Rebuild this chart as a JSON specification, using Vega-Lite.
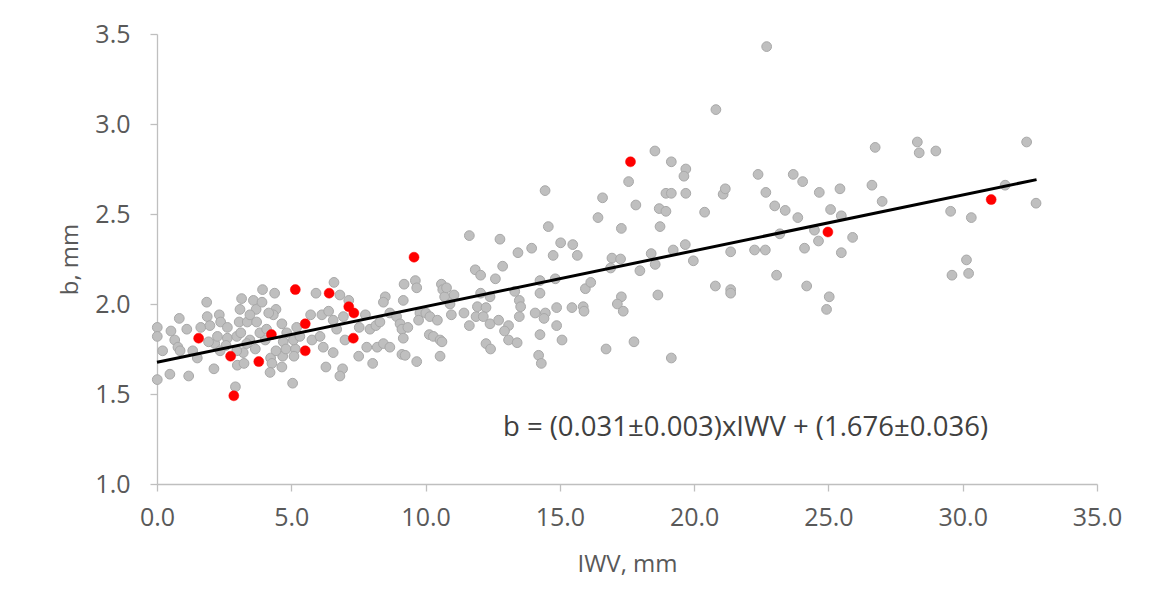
{
  "$schema": "https://vega.github.io/schema/vega-lite/v6.json",
  "autosize": {"type": "none"},
  "width": 940,
  "height": 450,
  "padding": {"left": 157, "top": 34, "right": 69, "bottom": 122},
  "background": "white",
  "config": {
    "view": {"stroke": null},
    "axis": {
      "grid": false,
      "domainColor": "#BFBFBF",
      "domainWidth": 1.3,
      "tickColor": "#BFBFBF",
      "tickWidth": 1.3,
      "tickSize": 7,
      "labelColor": "#595959",
      "titleColor": "#595959",
      "labelFont": "Open Sans",
      "titleFont": "Open Sans",
      "labelFontSize": 25,
      "titleFontSize": 24,
      "titleFontWeight": "normal",
      "labelFlush": false,
      "labelOverlap": false
    }
  },
  "datasets": {
    "pts": [
      {"IWV": 0.01, "b": 1.87, "group": "all"},
      {"IWV": 0.01, "b": 1.82, "group": "all"},
      {"IWV": 0.21, "b": 1.74, "group": "all"},
      {"IWV": 0.01, "b": 1.58, "group": "all"},
      {"IWV": 0.48, "b": 1.61, "group": "all"},
      {"IWV": 0.52, "b": 1.85, "group": "all"},
      {"IWV": 0.66, "b": 1.80, "group": "all"},
      {"IWV": 0.83, "b": 1.92, "group": "all"},
      {"IWV": 0.78, "b": 1.76, "group": "all"},
      {"IWV": 0.86, "b": 1.74, "group": "all"},
      {"IWV": 1.18, "b": 1.60, "group": "all"},
      {"IWV": 1.11, "b": 1.86, "group": "all"},
      {"IWV": 1.33, "b": 1.74, "group": "all"},
      {"IWV": 1.50, "b": 1.70, "group": "all"},
      {"IWV": 1.63, "b": 1.87, "group": "all"},
      {"IWV": 1.85, "b": 2.01, "group": "all"},
      {"IWV": 1.87, "b": 1.93, "group": "all"},
      {"IWV": 1.97, "b": 1.88, "group": "all"},
      {"IWV": 2.32, "b": 1.94, "group": "all"},
      {"IWV": 2.37, "b": 1.90, "group": "all"},
      {"IWV": 2.12, "b": 1.64, "group": "all"},
      {"IWV": 2.15, "b": 1.78, "group": "all"},
      {"IWV": 2.25, "b": 1.82, "group": "all"},
      {"IWV": 2.62, "b": 1.87, "group": "all"},
      {"IWV": 2.62, "b": 1.81, "group": "all"},
      {"IWV": 2.57, "b": 1.77, "group": "all"},
      {"IWV": 2.97, "b": 1.82, "group": "all"},
      {"IWV": 2.92, "b": 1.54, "group": "all"},
      {"IWV": 2.99, "b": 1.66, "group": "all"},
      {"IWV": 3.15, "b": 2.03, "group": "all"},
      {"IWV": 3.09, "b": 1.97, "group": "all"},
      {"IWV": 3.06, "b": 1.90, "group": "all"},
      {"IWV": 3.12, "b": 1.84, "group": "all"},
      {"IWV": 3.21, "b": 1.73, "group": "all"},
      {"IWV": 3.24, "b": 1.67, "group": "all"},
      {"IWV": 3.36, "b": 1.90, "group": "all"},
      {"IWV": 3.59, "b": 2.02, "group": "all"},
      {"IWV": 3.69, "b": 1.97, "group": "all"},
      {"IWV": 3.71, "b": 1.90, "group": "all"},
      {"IWV": 3.66, "b": 1.75, "group": "all"},
      {"IWV": 3.46, "b": 1.80, "group": "all"},
      {"IWV": 3.93, "b": 2.08, "group": "all"},
      {"IWV": 3.91, "b": 2.01, "group": "all"},
      {"IWV": 4.03, "b": 1.80, "group": "all"},
      {"IWV": 4.23, "b": 1.70, "group": "all"},
      {"IWV": 4.28, "b": 1.67, "group": "all"},
      {"IWV": 4.21, "b": 1.62, "group": "all"},
      {"IWV": 4.38, "b": 2.06, "group": "all"},
      {"IWV": 4.43, "b": 1.97, "group": "all"},
      {"IWV": 4.33, "b": 1.94, "group": "all"},
      {"IWV": 4.65, "b": 1.89, "group": "all"},
      {"IWV": 4.70, "b": 1.79, "group": "all"},
      {"IWV": 4.68, "b": 1.71, "group": "all"},
      {"IWV": 4.65, "b": 1.65, "group": "all"},
      {"IWV": 5.05, "b": 1.56, "group": "all"},
      {"IWV": 5.15, "b": 1.75, "group": "all"},
      {"IWV": 5.10, "b": 1.71, "group": "all"},
      {"IWV": 5.20, "b": 1.87, "group": "all"},
      {"IWV": 1.92, "b": 1.79, "group": "all"},
      {"IWV": 2.35, "b": 1.74, "group": "all"},
      {"IWV": 2.97, "b": 1.74, "group": "all"},
      {"IWV": 3.34, "b": 1.78, "group": "all"},
      {"IWV": 3.83, "b": 1.84, "group": "all"},
      {"IWV": 4.08, "b": 1.86, "group": "all"},
      {"IWV": 4.83, "b": 1.84, "group": "all"},
      {"IWV": 4.80, "b": 1.75, "group": "all"},
      {"IWV": 4.43, "b": 1.74, "group": "all"},
      {"IWV": 5.08, "b": 1.80, "group": "all"},
      {"IWV": 4.16, "b": 1.95, "group": "all"},
      {"IWV": 3.46, "b": 1.94, "group": "all"},
      {"IWV": 6.59, "b": 2.12, "group": "all"},
      {"IWV": 5.92, "b": 2.06, "group": "all"},
      {"IWV": 6.81, "b": 2.05, "group": "all"},
      {"IWV": 7.14, "b": 2.02, "group": "all"},
      {"IWV": 5.72, "b": 1.94, "group": "all"},
      {"IWV": 6.14, "b": 1.94, "group": "all"},
      {"IWV": 6.39, "b": 1.96, "group": "all"},
      {"IWV": 6.56, "b": 1.91, "group": "all"},
      {"IWV": 6.94, "b": 1.93, "group": "all"},
      {"IWV": 5.32, "b": 1.82, "group": "all"},
      {"IWV": 5.77, "b": 1.80, "group": "all"},
      {"IWV": 6.07, "b": 1.82, "group": "all"},
      {"IWV": 6.19, "b": 1.76, "group": "all"},
      {"IWV": 6.56, "b": 1.73, "group": "all"},
      {"IWV": 6.29, "b": 1.65, "group": "all"},
      {"IWV": 6.91, "b": 1.64, "group": "all"},
      {"IWV": 6.81, "b": 1.60, "group": "all"},
      {"IWV": 6.69, "b": 1.86, "group": "all"},
      {"IWV": 7.00, "b": 1.80, "group": "all"},
      {"IWV": 7.76, "b": 1.94, "group": "all"},
      {"IWV": 7.53, "b": 1.87, "group": "all"},
      {"IWV": 7.93, "b": 1.86, "group": "all"},
      {"IWV": 8.15, "b": 1.88, "group": "all"},
      {"IWV": 7.51, "b": 1.71, "group": "all"},
      {"IWV": 7.81, "b": 1.76, "group": "all"},
      {"IWV": 8.03, "b": 1.67, "group": "all"},
      {"IWV": 8.20, "b": 1.76, "group": "all"},
      {"IWV": 8.43, "b": 1.78, "group": "all"},
      {"IWV": 8.67, "b": 1.76, "group": "all"},
      {"IWV": 8.30, "b": 1.90, "group": "all"},
      {"IWV": 8.50, "b": 2.04, "group": "all"},
      {"IWV": 8.43, "b": 2.01, "group": "all"},
      {"IWV": 8.67, "b": 1.95, "group": "all"},
      {"IWV": 8.92, "b": 1.93, "group": "all"},
      {"IWV": 9.05, "b": 1.89, "group": "all"},
      {"IWV": 9.17, "b": 2.02, "group": "all"},
      {"IWV": 9.20, "b": 2.11, "group": "all"},
      {"IWV": 9.12, "b": 1.86, "group": "all"},
      {"IWV": 9.34, "b": 1.87, "group": "all"},
      {"IWV": 9.17, "b": 1.81, "group": "all"},
      {"IWV": 9.12, "b": 1.72, "group": "all"},
      {"IWV": 9.24, "b": 1.715, "group": "all"},
      {"IWV": 9.67, "b": 1.68, "group": "all"},
      {"IWV": 9.62, "b": 2.13, "group": "all"},
      {"IWV": 9.67, "b": 2.09, "group": "all"},
      {"IWV": 9.79, "b": 1.95, "group": "all"},
      {"IWV": 9.74, "b": 1.91, "group": "all"},
      {"IWV": 10.01, "b": 1.95, "group": "all"},
      {"IWV": 10.16, "b": 1.93, "group": "all"},
      {"IWV": 10.14, "b": 1.83, "group": "all"},
      {"IWV": 10.29, "b": 1.82, "group": "all"},
      {"IWV": 10.54, "b": 1.80, "group": "all"},
      {"IWV": 10.59, "b": 2.11, "group": "all"},
      {"IWV": 10.64, "b": 2.08, "group": "all"},
      {"IWV": 10.71, "b": 2.04, "group": "all"},
      {"IWV": 10.44, "b": 1.91, "group": "all"},
      {"IWV": 10.54, "b": 1.71, "group": "all"},
      {"IWV": 11.63, "b": 2.38, "group": "all"},
      {"IWV": 12.77, "b": 2.36, "group": "all"},
      {"IWV": 14.57, "b": 2.43, "group": "all"},
      {"IWV": 13.44, "b": 2.285, "group": "all"},
      {"IWV": 13.95, "b": 2.31, "group": "all"},
      {"IWV": 15.03, "b": 2.34, "group": "all"},
      {"IWV": 15.48, "b": 2.33, "group": "all"},
      {"IWV": 14.75, "b": 2.27, "group": "all"},
      {"IWV": 15.65, "b": 2.27, "group": "all"},
      {"IWV": 16.42, "b": 2.48, "group": "all"},
      {"IWV": 11.85, "b": 2.19, "group": "all"},
      {"IWV": 12.05, "b": 2.16, "group": "all"},
      {"IWV": 12.87, "b": 2.21, "group": "all"},
      {"IWV": 12.60, "b": 2.14, "group": "all"},
      {"IWV": 10.78, "b": 2.09, "group": "all"},
      {"IWV": 11.06, "b": 2.05, "group": "all"},
      {"IWV": 12.05, "b": 2.06, "group": "all"},
      {"IWV": 12.40, "b": 2.04, "group": "all"},
      {"IWV": 10.91, "b": 2.00, "group": "all"},
      {"IWV": 10.96, "b": 1.94, "group": "all"},
      {"IWV": 11.43, "b": 1.95, "group": "all"},
      {"IWV": 11.93, "b": 1.985, "group": "all"},
      {"IWV": 12.25, "b": 1.98, "group": "all"},
      {"IWV": 11.88, "b": 1.93, "group": "all"},
      {"IWV": 12.15, "b": 1.93, "group": "all"},
      {"IWV": 12.40, "b": 1.89, "group": "all"},
      {"IWV": 12.72, "b": 1.91, "group": "all"},
      {"IWV": 11.63, "b": 1.88, "group": "all"},
      {"IWV": 13.09, "b": 1.88, "group": "all"},
      {"IWV": 12.94, "b": 1.85, "group": "all"},
      {"IWV": 13.32, "b": 2.07, "group": "all"},
      {"IWV": 13.49, "b": 2.02, "group": "all"},
      {"IWV": 13.54, "b": 1.985, "group": "all"},
      {"IWV": 13.49, "b": 1.93, "group": "all"},
      {"IWV": 14.26, "b": 2.13, "group": "all"},
      {"IWV": 14.26, "b": 2.06, "group": "all"},
      {"IWV": 14.83, "b": 2.14, "group": "all"},
      {"IWV": 14.08, "b": 1.95, "group": "all"},
      {"IWV": 14.46, "b": 1.95, "group": "all"},
      {"IWV": 14.41, "b": 1.92, "group": "all"},
      {"IWV": 14.88, "b": 1.98, "group": "all"},
      {"IWV": 14.88, "b": 1.88, "group": "all"},
      {"IWV": 15.45, "b": 1.98, "group": "all"},
      {"IWV": 15.87, "b": 1.985, "group": "all"},
      {"IWV": 15.90, "b": 1.96, "group": "all"},
      {"IWV": 15.95, "b": 2.085, "group": "all"},
      {"IWV": 16.15, "b": 2.12, "group": "all"},
      {"IWV": 14.26, "b": 1.83, "group": "all"},
      {"IWV": 15.08, "b": 1.80, "group": "all"},
      {"IWV": 12.25, "b": 1.78, "group": "all"},
      {"IWV": 12.42, "b": 1.75, "group": "all"},
      {"IWV": 13.09, "b": 1.80, "group": "all"},
      {"IWV": 13.41, "b": 1.785, "group": "all"},
      {"IWV": 10.61, "b": 1.79, "group": "all"},
      {"IWV": 14.21, "b": 1.715, "group": "all"},
      {"IWV": 14.31, "b": 1.67, "group": "all"},
      {"IWV": 14.45, "b": 2.63, "group": "all"},
      {"IWV": 18.54, "b": 2.85, "group": "all"},
      {"IWV": 19.15, "b": 2.79, "group": "all"},
      {"IWV": 19.69, "b": 2.75, "group": "all"},
      {"IWV": 19.62, "b": 2.71, "group": "all"},
      {"IWV": 17.56, "b": 2.68, "group": "all"},
      {"IWV": 16.59, "b": 2.59, "group": "all"},
      {"IWV": 17.83, "b": 2.55, "group": "all"},
      {"IWV": 18.95, "b": 2.615, "group": "all"},
      {"IWV": 19.15, "b": 2.615, "group": "all"},
      {"IWV": 19.69, "b": 2.615, "group": "all"},
      {"IWV": 18.70, "b": 2.53, "group": "all"},
      {"IWV": 18.95, "b": 2.515, "group": "all"},
      {"IWV": 17.29, "b": 2.42, "group": "all"},
      {"IWV": 18.73, "b": 2.43, "group": "all"},
      {"IWV": 20.39, "b": 2.51, "group": "all"},
      {"IWV": 21.08, "b": 2.61, "group": "all"},
      {"IWV": 21.16, "b": 2.64, "group": "all"},
      {"IWV": 22.38, "b": 2.72, "group": "all"},
      {"IWV": 22.67, "b": 2.62, "group": "all"},
      {"IWV": 16.94, "b": 2.255, "group": "all"},
      {"IWV": 17.26, "b": 2.25, "group": "all"},
      {"IWV": 16.89, "b": 2.20, "group": "all"},
      {"IWV": 17.98, "b": 2.185, "group": "all"},
      {"IWV": 18.40, "b": 2.28, "group": "all"},
      {"IWV": 18.55, "b": 2.22, "group": "all"},
      {"IWV": 19.22, "b": 2.30, "group": "all"},
      {"IWV": 19.67, "b": 2.33, "group": "all"},
      {"IWV": 19.97, "b": 2.24, "group": "all"},
      {"IWV": 21.36, "b": 2.29, "group": "all"},
      {"IWV": 22.25, "b": 2.30, "group": "all"},
      {"IWV": 22.65, "b": 2.30, "group": "all"},
      {"IWV": 17.29, "b": 2.04, "group": "all"},
      {"IWV": 17.14, "b": 2.00, "group": "all"},
      {"IWV": 17.36, "b": 1.96, "group": "all"},
      {"IWV": 18.65, "b": 2.05, "group": "all"},
      {"IWV": 20.79, "b": 2.10, "group": "all"},
      {"IWV": 21.36, "b": 2.08, "group": "all"},
      {"IWV": 21.36, "b": 2.06, "group": "all"},
      {"IWV": 16.72, "b": 1.75, "group": "all"},
      {"IWV": 17.76, "b": 1.79, "group": "all"},
      {"IWV": 19.15, "b": 1.70, "group": "all"},
      {"IWV": 22.70, "b": 3.43, "group": "all"},
      {"IWV": 20.81, "b": 3.08, "group": "all"},
      {"IWV": 26.74, "b": 2.87, "group": "all"},
      {"IWV": 28.31, "b": 2.90, "group": "all"},
      {"IWV": 28.38, "b": 2.84, "group": "all"},
      {"IWV": 29.00, "b": 2.85, "group": "all"},
      {"IWV": 23.69, "b": 2.72, "group": "all"},
      {"IWV": 24.04, "b": 2.68, "group": "all"},
      {"IWV": 24.66, "b": 2.62, "group": "all"},
      {"IWV": 25.43, "b": 2.64, "group": "all"},
      {"IWV": 26.62, "b": 2.66, "group": "all"},
      {"IWV": 23.00, "b": 2.545, "group": "all"},
      {"IWV": 23.39, "b": 2.52, "group": "all"},
      {"IWV": 23.86, "b": 2.48, "group": "all"},
      {"IWV": 25.08, "b": 2.525, "group": "all"},
      {"IWV": 25.48, "b": 2.49, "group": "all"},
      {"IWV": 27.00, "b": 2.57, "group": "all"},
      {"IWV": 23.19, "b": 2.39, "group": "all"},
      {"IWV": 24.48, "b": 2.41, "group": "all"},
      {"IWV": 24.63, "b": 2.35, "group": "all"},
      {"IWV": 24.11, "b": 2.31, "group": "all"},
      {"IWV": 25.48, "b": 2.285, "group": "all"},
      {"IWV": 25.90, "b": 2.37, "group": "all"},
      {"IWV": 23.07, "b": 2.16, "group": "all"},
      {"IWV": 24.19, "b": 2.10, "group": "all"},
      {"IWV": 25.03, "b": 2.04, "group": "all"},
      {"IWV": 24.93, "b": 1.97, "group": "all"},
      {"IWV": 32.38, "b": 2.90, "group": "all"},
      {"IWV": 31.58, "b": 2.66, "group": "all"},
      {"IWV": 32.73, "b": 2.56, "group": "all"},
      {"IWV": 29.55, "b": 2.515, "group": "all"},
      {"IWV": 30.32, "b": 2.48, "group": "all"},
      {"IWV": 30.14, "b": 2.245, "group": "all"},
      {"IWV": 30.22, "b": 2.17, "group": "all"},
      {"IWV": 29.60, "b": 2.16, "group": "all"},
      {"IWV": 1.55, "b": 1.81, "group": "subset"},
      {"IWV": 2.74, "b": 1.71, "group": "subset"},
      {"IWV": 2.86, "b": 1.49, "group": "subset"},
      {"IWV": 3.79, "b": 1.68, "group": "subset"},
      {"IWV": 4.26, "b": 1.83, "group": "subset"},
      {"IWV": 5.15, "b": 2.08, "group": "subset"},
      {"IWV": 5.52, "b": 1.89, "group": "subset"},
      {"IWV": 5.52, "b": 1.74, "group": "subset"},
      {"IWV": 6.41, "b": 2.06, "group": "subset"},
      {"IWV": 7.14, "b": 1.985, "group": "subset"},
      {"IWV": 7.33, "b": 1.95, "group": "subset"},
      {"IWV": 7.31, "b": 1.81, "group": "subset"},
      {"IWV": 9.57, "b": 2.26, "group": "subset"},
      {"IWV": 17.63, "b": 2.79, "group": "subset"},
      {"IWV": 24.98, "b": 2.40, "group": "subset"},
      {"IWV": 31.06, "b": 2.58, "group": "subset"}
    ],
    "fit": [
      {"IWV": 0, "b": 1.676},
      {"IWV": 32.75, "b": 2.691}
    ],
    "note": [
      {"IWV": 12.88, "b": 1.311, "label": "b = (0.031±0.003)xIWV + (1.676±0.036)"}
    ]
  },
  "layer": [
    {
      "data": {"name": "pts"},
      "transform": [{"filter": "datum.group === 'all'"}],
      "mark": {"type": "circle", "size": 95, "fill": "#BFBFBF", "stroke": "#A8A8A8", "strokeWidth": 1, "opacity": 1},
      "encoding": {
        "x": {
          "field": "IWV", "type": "quantitative",
          "scale": {"domain": [0, 35], "nice": false, "zero": false},
          "axis": {"title": "IWV, mm", "values": [0, 5, 10, 15, 20, 25, 30, 35], "format": ".1f", "labelPadding": 14, "titlePadding": 22}
        },
        "y": {
          "field": "b", "type": "quantitative",
          "scale": {"domain": [1, 3.5], "nice": false, "zero": false},
          "axis": {"title": "b, mm", "values": [1, 1.5, 2, 2.5, 3, 3.5], "format": ".1f", "labelPadding": 20, "titlePadding": 12}
        }
      }
    },
    {
      "data": {"name": "pts"},
      "transform": [{"filter": "datum.group === 'subset'"}],
      "mark": {"type": "circle", "size": 100, "fill": "#FF0000", "stroke": "#FF0000", "strokeWidth": 0.5, "opacity": 1},
      "encoding": {
        "x": {"field": "IWV", "type": "quantitative"},
        "y": {"field": "b", "type": "quantitative"}
      }
    },
    {
      "data": {"name": "fit"},
      "mark": {"type": "line", "color": "#000000", "strokeWidth": 3},
      "encoding": {
        "x": {"field": "IWV", "type": "quantitative"},
        "y": {"field": "b", "type": "quantitative"}
      }
    },
    {
      "data": {"name": "note"},
      "mark": {"type": "text", "align": "left", "baseline": "middle", "font": "Open Sans", "fontSize": 27.5, "color": "#404040"},
      "encoding": {
        "x": {"field": "IWV", "type": "quantitative"},
        "y": {"field": "b", "type": "quantitative"},
        "text": {"field": "label"}
      }
    }
  ]
}
